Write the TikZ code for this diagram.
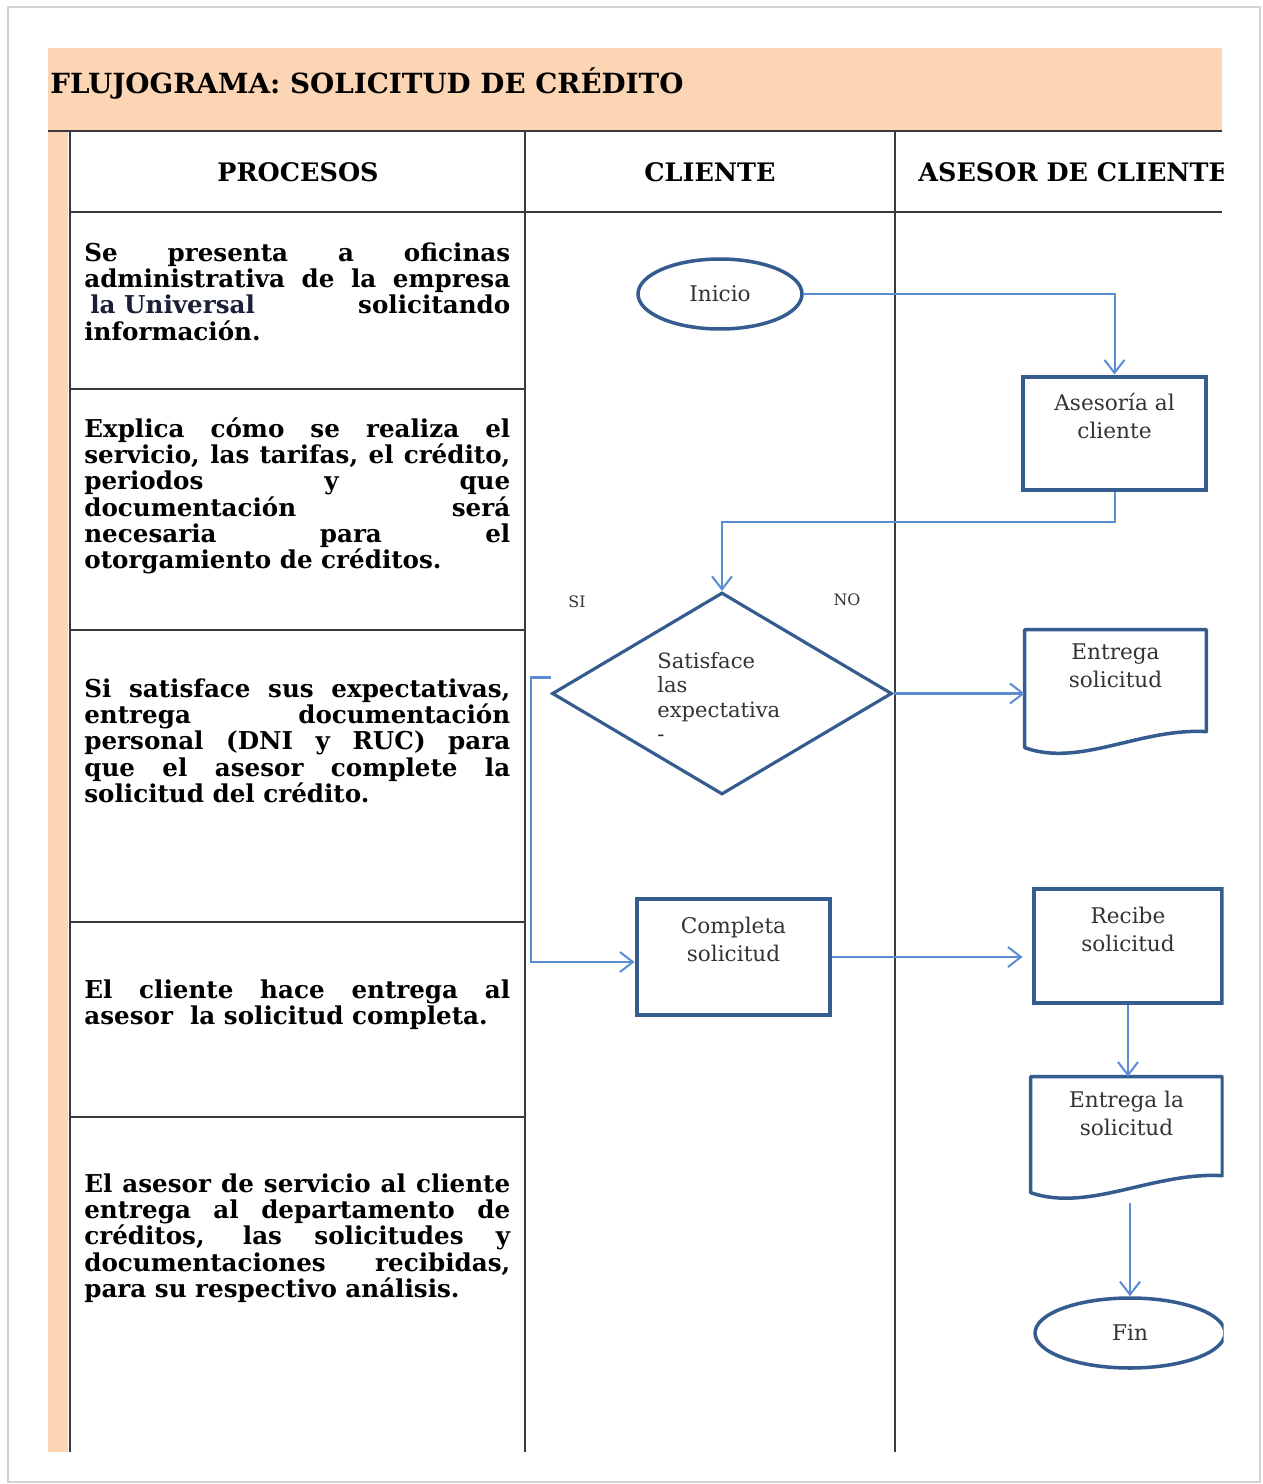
\documentclass[tikz,border=0pt]{standalone}
\usepackage{fontspec}
\setmainfont{DejaVu Serif}
\usetikzlibrary{shapes.geometric,arrows.meta,calc}

\definecolor{peach}{HTML}{FCD5B4}
\definecolor{shapeblue}{HTML}{355C8F}
\definecolor{linkblue}{HTML}{5B8DD3}
\definecolor{rulegray}{HTML}{3A3A3A}
\definecolor{framegray}{HTML}{D2D2D2}
\definecolor{navy}{HTML}{1A2038}
\definecolor{shtext}{HTML}{333333}

% justified line of the process column, and a natural (last) line
\newlength\procw
\setlength\procw{8.52cm}
\newcommand\jl[1]{\hbox to \procw{#1}}
\newcommand\nl[1]{\hbox{#1}}

\tikzset{
  tline/.style={draw=rulegray, line width=1.2pt},
  proc/.style={inner sep=0pt, anchor=base west,
    font=\fontsize{14pt}{0.528cm}\selectfont\bfseries},
  headtxt/.style={inner sep=0pt, font=\fontsize{14.5pt}{16pt}\selectfont\bfseries},
  titletxt/.style={inner sep=0pt, font=\fontsize{15.8pt}{18pt}\selectfont\bfseries},
  boxb/.style={rectangle, draw=shapeblue, line width=2.8pt, inner sep=0pt},
  ellip/.style={ellipse, draw=shapeblue, line width=2pt, inner sep=0pt,
    text=shtext, font=\fontsize{12.3pt}{0.56cm}\selectfont},
  diam/.style={diamond, draw=shapeblue, line width=1.8pt, inner sep=0pt},
  docbox/.style={rectangle, inner sep=0pt},
  docln/.style={draw=shapeblue, line width=2pt, line join=round},
  ltxt/.style={inner sep=0pt, text=shtext, align=center,
    font=\fontsize{12.3pt}{0.56cm}\selectfont},
  dtxt/.style={inner sep=0pt, text=shtext, align=left,
    font=\fontsize{12pt}{0.49cm}\selectfont},
  small/.style={inner sep=0pt, text=shtext, font=\fontsize{9pt}{10pt}\selectfont},
  conn/.style={draw=linkblue, line width=1.15pt,
    -{Straight Barb[length=2.6mm,width=4mm,line width=1.15pt]}},
}

\begin{document}
\begin{tikzpicture}[x=0.02cm,y=-0.02cm]
  % page
  \fill[white] (0,0) rectangle (1262,1484);
  \useasboundingbox (0,0) rectangle (1262,1484);
  \draw[framegray, line width=1.5pt] (8,7) rectangle (1260,1482);

  \begin{scope}
    \clip (0,0) rectangle (1223.5,1484);

    % title band and left strip
    \fill[peach] (48,48) rectangle (1222,131);
    \fill[peach] (48,131) rectangle (68,1452);
    \node[titletxt, anchor=base west] (title) at (50,93) {FLUJOGRAMA: SOLICITUD DE CRÉDITO};

    % table grid
    \draw[tline] (48,131) -- (1222,131);
    \draw[tline] (70,212) -- (1222,212);
    \draw[tline] (70,131) -- (70,1452);
    \draw[tline] (525,131) -- (525,1452);
    \draw[tline] (895,131) -- (895,1452);
    \foreach \yy in {389,630,922,1117}
      \draw[tline] (70,\yy) -- (525,\yy);

    % column headers
    \node[headtxt] (hproc) at (298,172) {PROCESOS};
    \node[headtxt] (hcli) at (710,172) {CLIENTE};
    \node[headtxt, anchor=west] (hases) at (918,172) {ASESOR DE CLIENTE};

    % process descriptions
    \node[proc] (p1) at (84,261) {\vtop{%
      \jl{Se presenta a oficinas}
      \jl{administrativa de la empresa}
      \jl{\kern0.12cm{\color{navy}la Universal}\hfill solicitando}
      \nl{información.}}};
    \node[proc] (p2) at (84,437) {\vtop{%
      \jl{Explica cómo se realiza el}
      \jl{servicio, las tarifas, el crédito,}
      \jl{periodos y que}
      \jl{documentación será}
      \jl{necesaria para el}
      \nl{otorgamiento de créditos.}}};
    \node[proc] (p3) at (84,697) {\vtop{%
      \jl{Si satisface sus expectativas,}
      \jl{entrega documentación}
      \jl{personal (DNI y RUC) para}
      \jl{que el asesor complete la}
      \nl{solicitud del crédito.}}};
    \node[proc] (p4) at (84,998) {\vtop{%
      \jl{El cliente hace entrega al}
      \nl{asesor\ \ la solicitud completa.}}};
    \node[proc] (p5) at (84,1192) {\vtop{%
      \jl{El asesor de servicio al cliente}
      \jl{entrega al departamento de}
      \jl{créditos, las solicitudes y}
      \jl{documentaciones recibidas,}
      \nl{para su respectivo análisis.}}};

    % flow shapes
    \node[ellip, minimum width=3.28cm, minimum height=1.4cm] (inicio) at (720,294) {Inicio};
    \node[boxb, minimum width=3.66cm, minimum height=2.26cm,
      label={[ltxt, anchor=north, yshift=-0.36cm]north:{Asesoría al\\cliente}}] (ases) at (1114.5,433.5) {};
    \node[diam, minimum width=6.8cm, minimum height=4.04cm,
      label={[dtxt, anchor=north west, xshift=-1.3cm, yshift=-1.22cm]north:{Satisface\\las\\expectativa\\-}}] (dec) at (722,693.5) {};
    \node[small] (si) at (577,602) {SI};
    \node[small] (no) at (847,600) {NO};

    \node[docbox, minimum width=3.62cm, minimum height=2.5cm,
      label={[ltxt, anchor=north, yshift=-0.28cm]north:{Entrega\\solicitud}}] (doc1) at (1115.5,692.5) {};
    \draw[docln] (doc1.north west) -- (doc1.north east) -- ($(doc1.north east)+(0,102)$)
      .. controls ($(doc1.north east)+(-66,98)$) and ($(doc1.north west)+(55,138)$) ..
      ($(doc1.north west)+(0,118)$) -- cycle;

    \node[boxb, minimum width=3.86cm, minimum height=2.32cm,
      label={[ltxt, anchor=north, yshift=-0.4cm]north:{Completa\\solicitud}}] (comp) at (733.5,957) {};
    \node[boxb, minimum width=3.76cm, minimum height=2.28cm,
      label={[ltxt, anchor=north, yshift=-0.4cm]north:{Recibe\\solicitud}}] (recibe) at (1128,946) {};

    \node[docbox, minimum width=3.82cm, minimum height=2.52cm,
      label={[ltxt, anchor=north, yshift=-0.28cm]north:{Entrega la\\solicitud}}] (doc2) at (1126.5,1140) {};
    \draw[docln] (doc2.north west) -- (doc2.north east) -- ($(doc2.north east)+(0,99)$)
      .. controls ($(doc2.north east)+(-69,95)$) and ($(doc2.north west)+(58,136)$) ..
      ($(doc2.north west)+(0,116)$) -- cycle;

    \node[ellip, minimum width=3.8cm, minimum height=1.4cm] (fin) at (1130,1333) {Fin};

    % connectors
    \draw[conn] (inicio.east) -| (ases.north);
    \draw[conn] (ases.south) -- ++(0,30) -| (dec.north);
    \draw[conn] (dec.east) -- (dec.east -| doc1.west);
    \coordinate (sistart) at ($(dec.west)+(1,-16)$);
    \coordinate (sibend) at ($(dec.west)+(-19,-16)$);
    \draw[conn] (sistart) -- (sibend) |- ($(comp.west)+(0,5)$);
    \draw[conn, shorten >=9*0.02cm] (comp.east) -- (comp.east -| recibe.west);
    \draw[conn] (recibe.south) -- (recibe.south |- doc2.north);
    \draw[conn] (doc2.south -| fin.north) -- (fin.north);
  \end{scope}
\end{tikzpicture}
\end{document}
